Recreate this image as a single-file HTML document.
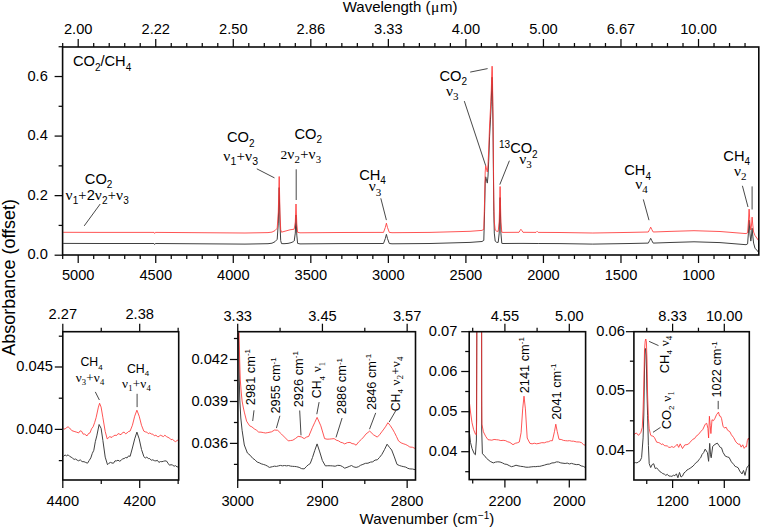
<!DOCTYPE html>
<html><head><meta charset="utf-8"><style>
html,body{margin:0;padding:0;background:#fff;}
svg{display:block;}
text{font-family:'Liberation Sans', sans-serif;fill:#000;stroke:#000;stroke-width:0px;stroke:none;}
</style></head><body>
<svg width="760" height="528" viewBox="0 0 760 528">
<rect width="760" height="528" fill="#fff"/>
<polyline points="63.20,243.40 100.00,243.50 154.00,243.50 154.60,244.50 155.30,243.50 200.00,243.80 245.00,244.10 268.00,243.70 272.00,243.20 275.00,241.70 277.20,239.30 278.30,223.10 279.20,187.60 280.00,225.10 280.70,240.60 281.50,243.60 284.00,243.70 288.00,243.40 291.00,242.70 293.50,241.60 294.20,241.00 295.30,233.10 296.00,215.10 296.80,235.10 297.60,243.40 300.00,243.90 340.00,243.60 383.50,243.50 385.30,238.60 386.40,234.30 387.50,238.60 389.30,243.50 392.00,243.80 430.00,243.50 470.00,242.40 482.00,241.50 483.80,240.40 484.60,211.10 485.20,183.10 485.70,176.80 486.50,180.10 487.30,183.10 488.00,176.10 488.70,161.10 489.60,136.10 490.50,119.10 491.30,101.10 491.80,83.10 492.10,77.30 492.40,83.10 492.70,106.10 493.00,126.10 493.40,171.10 493.80,211.10 494.30,233.10 495.20,241.10 496.80,242.40 498.20,242.40 499.20,233.10 500.10,197.60 500.90,233.10 501.80,243.30 503.00,243.50 519.00,243.40 523.00,243.40 536.00,243.50 538.20,243.50 560.00,243.60 592.80,244.10 630.00,243.50 648.30,243.10 649.60,240.60 650.70,238.30 651.80,240.60 653.20,243.10 670.00,242.50 694.00,241.80 720.00,242.60 746.00,244.70 747.60,243.90 748.40,233.10 749.10,220.20 749.90,233.10 750.80,241.10 751.50,236.10 752.10,228.20 752.80,236.10 753.60,243.10 755.00,248.20 757.50,250.95 758.40,252.18" fill="none" stroke="#404040" stroke-width="1.0" stroke-linejoin="round" opacity="1.0"/>
<polyline points="63.20,232.30 100.00,232.40 154.00,232.40 154.60,233.40 155.30,232.40 200.00,232.70 245.00,233.00 268.00,232.60 272.00,232.10 275.00,230.60 277.20,228.20 278.30,212.00 279.20,176.50 280.00,214.00 280.70,229.50 281.50,232.20 285.00,231.20 290.00,229.80 294.20,229.20 295.30,222.00 296.00,204.00 296.80,224.00 297.60,232.30 300.00,232.80 340.00,232.50 383.50,232.40 385.30,227.50 386.40,223.20 387.50,227.50 389.30,232.40 392.00,232.70 430.00,232.40 470.00,231.30 482.00,230.40 483.80,229.30 484.60,200.00 485.20,172.00 485.70,165.70 486.50,169.00 487.30,172.00 488.00,165.00 488.70,150.00 489.60,125.00 490.50,108.00 491.30,90.00 491.80,72.00 492.10,66.20 492.40,72.00 492.70,95.00 493.00,115.00 493.40,160.00 493.80,200.00 494.30,222.00 495.20,230.00 496.80,231.30 498.20,231.30 499.20,222.00 500.10,186.50 500.90,222.00 501.80,232.20 503.00,232.40 519.00,232.30 520.10,230.50 520.90,229.30 521.80,230.50 523.00,232.30 536.00,232.40 537.10,231.30 538.20,232.40 560.00,232.50 592.80,233.00 630.00,232.40 648.30,232.00 649.60,229.50 650.70,227.20 651.80,229.50 653.20,232.00 670.00,231.40 694.00,230.70 720.00,231.50 746.00,233.60 747.60,232.80 748.40,222.00 749.10,209.10 749.90,222.00 750.80,230.00 751.50,225.00 752.10,217.10 752.80,225.00 753.60,232.00 755.00,235.50 757.50,239.00 758.40,240.50" fill="none" stroke="#ff3030" stroke-width="1.0" stroke-linejoin="round" opacity="0.82"/>
<rect x="62.60" y="47.00" width="696.20" height="208.00" fill="none" stroke="#0a0a0a" stroke-width="1.6"/>
<line x1="78.20" y1="47.00" x2="78.20" y2="39.00" stroke="#0a0a0a" stroke-width="1.25"/>
<line x1="78.20" y1="255.00" x2="78.20" y2="263.00" stroke="#0a0a0a" stroke-width="1.25"/>
<line x1="155.74" y1="47.00" x2="155.74" y2="39.00" stroke="#0a0a0a" stroke-width="1.25"/>
<line x1="155.74" y1="255.00" x2="155.74" y2="263.00" stroke="#0a0a0a" stroke-width="1.25"/>
<line x1="233.28" y1="47.00" x2="233.28" y2="39.00" stroke="#0a0a0a" stroke-width="1.25"/>
<line x1="233.28" y1="255.00" x2="233.28" y2="263.00" stroke="#0a0a0a" stroke-width="1.25"/>
<line x1="310.82" y1="47.00" x2="310.82" y2="39.00" stroke="#0a0a0a" stroke-width="1.25"/>
<line x1="310.82" y1="255.00" x2="310.82" y2="263.00" stroke="#0a0a0a" stroke-width="1.25"/>
<line x1="388.36" y1="47.00" x2="388.36" y2="39.00" stroke="#0a0a0a" stroke-width="1.25"/>
<line x1="388.36" y1="255.00" x2="388.36" y2="263.00" stroke="#0a0a0a" stroke-width="1.25"/>
<line x1="465.90" y1="47.00" x2="465.90" y2="39.00" stroke="#0a0a0a" stroke-width="1.25"/>
<line x1="465.90" y1="255.00" x2="465.90" y2="263.00" stroke="#0a0a0a" stroke-width="1.25"/>
<line x1="543.44" y1="47.00" x2="543.44" y2="39.00" stroke="#0a0a0a" stroke-width="1.25"/>
<line x1="543.44" y1="255.00" x2="543.44" y2="263.00" stroke="#0a0a0a" stroke-width="1.25"/>
<line x1="620.98" y1="47.00" x2="620.98" y2="39.00" stroke="#0a0a0a" stroke-width="1.25"/>
<line x1="620.98" y1="255.00" x2="620.98" y2="263.00" stroke="#0a0a0a" stroke-width="1.25"/>
<line x1="698.52" y1="47.00" x2="698.52" y2="39.00" stroke="#0a0a0a" stroke-width="1.25"/>
<line x1="698.52" y1="255.00" x2="698.52" y2="263.00" stroke="#0a0a0a" stroke-width="1.25"/>
<line x1="62.69" y1="47.00" x2="62.69" y2="43.00" stroke="#0a0a0a" stroke-width="1.25"/>
<line x1="62.69" y1="255.00" x2="62.69" y2="259.00" stroke="#0a0a0a" stroke-width="1.25"/>
<line x1="93.71" y1="47.00" x2="93.71" y2="43.00" stroke="#0a0a0a" stroke-width="1.25"/>
<line x1="93.71" y1="255.00" x2="93.71" y2="259.00" stroke="#0a0a0a" stroke-width="1.25"/>
<line x1="109.22" y1="47.00" x2="109.22" y2="43.00" stroke="#0a0a0a" stroke-width="1.25"/>
<line x1="109.22" y1="255.00" x2="109.22" y2="259.00" stroke="#0a0a0a" stroke-width="1.25"/>
<line x1="124.72" y1="47.00" x2="124.72" y2="43.00" stroke="#0a0a0a" stroke-width="1.25"/>
<line x1="124.72" y1="255.00" x2="124.72" y2="259.00" stroke="#0a0a0a" stroke-width="1.25"/>
<line x1="140.23" y1="47.00" x2="140.23" y2="43.00" stroke="#0a0a0a" stroke-width="1.25"/>
<line x1="140.23" y1="255.00" x2="140.23" y2="259.00" stroke="#0a0a0a" stroke-width="1.25"/>
<line x1="171.25" y1="47.00" x2="171.25" y2="43.00" stroke="#0a0a0a" stroke-width="1.25"/>
<line x1="171.25" y1="255.00" x2="171.25" y2="259.00" stroke="#0a0a0a" stroke-width="1.25"/>
<line x1="186.76" y1="47.00" x2="186.76" y2="43.00" stroke="#0a0a0a" stroke-width="1.25"/>
<line x1="186.76" y1="255.00" x2="186.76" y2="259.00" stroke="#0a0a0a" stroke-width="1.25"/>
<line x1="202.26" y1="47.00" x2="202.26" y2="43.00" stroke="#0a0a0a" stroke-width="1.25"/>
<line x1="202.26" y1="255.00" x2="202.26" y2="259.00" stroke="#0a0a0a" stroke-width="1.25"/>
<line x1="217.77" y1="47.00" x2="217.77" y2="43.00" stroke="#0a0a0a" stroke-width="1.25"/>
<line x1="217.77" y1="255.00" x2="217.77" y2="259.00" stroke="#0a0a0a" stroke-width="1.25"/>
<line x1="248.79" y1="47.00" x2="248.79" y2="43.00" stroke="#0a0a0a" stroke-width="1.25"/>
<line x1="248.79" y1="255.00" x2="248.79" y2="259.00" stroke="#0a0a0a" stroke-width="1.25"/>
<line x1="264.30" y1="47.00" x2="264.30" y2="43.00" stroke="#0a0a0a" stroke-width="1.25"/>
<line x1="264.30" y1="255.00" x2="264.30" y2="259.00" stroke="#0a0a0a" stroke-width="1.25"/>
<line x1="279.80" y1="47.00" x2="279.80" y2="43.00" stroke="#0a0a0a" stroke-width="1.25"/>
<line x1="279.80" y1="255.00" x2="279.80" y2="259.00" stroke="#0a0a0a" stroke-width="1.25"/>
<line x1="295.31" y1="47.00" x2="295.31" y2="43.00" stroke="#0a0a0a" stroke-width="1.25"/>
<line x1="295.31" y1="255.00" x2="295.31" y2="259.00" stroke="#0a0a0a" stroke-width="1.25"/>
<line x1="326.33" y1="47.00" x2="326.33" y2="43.00" stroke="#0a0a0a" stroke-width="1.25"/>
<line x1="326.33" y1="255.00" x2="326.33" y2="259.00" stroke="#0a0a0a" stroke-width="1.25"/>
<line x1="341.84" y1="47.00" x2="341.84" y2="43.00" stroke="#0a0a0a" stroke-width="1.25"/>
<line x1="341.84" y1="255.00" x2="341.84" y2="259.00" stroke="#0a0a0a" stroke-width="1.25"/>
<line x1="357.34" y1="47.00" x2="357.34" y2="43.00" stroke="#0a0a0a" stroke-width="1.25"/>
<line x1="357.34" y1="255.00" x2="357.34" y2="259.00" stroke="#0a0a0a" stroke-width="1.25"/>
<line x1="372.85" y1="47.00" x2="372.85" y2="43.00" stroke="#0a0a0a" stroke-width="1.25"/>
<line x1="372.85" y1="255.00" x2="372.85" y2="259.00" stroke="#0a0a0a" stroke-width="1.25"/>
<line x1="403.87" y1="47.00" x2="403.87" y2="43.00" stroke="#0a0a0a" stroke-width="1.25"/>
<line x1="403.87" y1="255.00" x2="403.87" y2="259.00" stroke="#0a0a0a" stroke-width="1.25"/>
<line x1="419.38" y1="47.00" x2="419.38" y2="43.00" stroke="#0a0a0a" stroke-width="1.25"/>
<line x1="419.38" y1="255.00" x2="419.38" y2="259.00" stroke="#0a0a0a" stroke-width="1.25"/>
<line x1="434.88" y1="47.00" x2="434.88" y2="43.00" stroke="#0a0a0a" stroke-width="1.25"/>
<line x1="434.88" y1="255.00" x2="434.88" y2="259.00" stroke="#0a0a0a" stroke-width="1.25"/>
<line x1="450.39" y1="47.00" x2="450.39" y2="43.00" stroke="#0a0a0a" stroke-width="1.25"/>
<line x1="450.39" y1="255.00" x2="450.39" y2="259.00" stroke="#0a0a0a" stroke-width="1.25"/>
<line x1="481.41" y1="47.00" x2="481.41" y2="43.00" stroke="#0a0a0a" stroke-width="1.25"/>
<line x1="481.41" y1="255.00" x2="481.41" y2="259.00" stroke="#0a0a0a" stroke-width="1.25"/>
<line x1="496.92" y1="47.00" x2="496.92" y2="43.00" stroke="#0a0a0a" stroke-width="1.25"/>
<line x1="496.92" y1="255.00" x2="496.92" y2="259.00" stroke="#0a0a0a" stroke-width="1.25"/>
<line x1="512.42" y1="47.00" x2="512.42" y2="43.00" stroke="#0a0a0a" stroke-width="1.25"/>
<line x1="512.42" y1="255.00" x2="512.42" y2="259.00" stroke="#0a0a0a" stroke-width="1.25"/>
<line x1="527.93" y1="47.00" x2="527.93" y2="43.00" stroke="#0a0a0a" stroke-width="1.25"/>
<line x1="527.93" y1="255.00" x2="527.93" y2="259.00" stroke="#0a0a0a" stroke-width="1.25"/>
<line x1="558.95" y1="47.00" x2="558.95" y2="43.00" stroke="#0a0a0a" stroke-width="1.25"/>
<line x1="558.95" y1="255.00" x2="558.95" y2="259.00" stroke="#0a0a0a" stroke-width="1.25"/>
<line x1="574.46" y1="47.00" x2="574.46" y2="43.00" stroke="#0a0a0a" stroke-width="1.25"/>
<line x1="574.46" y1="255.00" x2="574.46" y2="259.00" stroke="#0a0a0a" stroke-width="1.25"/>
<line x1="589.96" y1="47.00" x2="589.96" y2="43.00" stroke="#0a0a0a" stroke-width="1.25"/>
<line x1="589.96" y1="255.00" x2="589.96" y2="259.00" stroke="#0a0a0a" stroke-width="1.25"/>
<line x1="605.47" y1="47.00" x2="605.47" y2="43.00" stroke="#0a0a0a" stroke-width="1.25"/>
<line x1="605.47" y1="255.00" x2="605.47" y2="259.00" stroke="#0a0a0a" stroke-width="1.25"/>
<line x1="636.49" y1="47.00" x2="636.49" y2="43.00" stroke="#0a0a0a" stroke-width="1.25"/>
<line x1="636.49" y1="255.00" x2="636.49" y2="259.00" stroke="#0a0a0a" stroke-width="1.25"/>
<line x1="652.00" y1="47.00" x2="652.00" y2="43.00" stroke="#0a0a0a" stroke-width="1.25"/>
<line x1="652.00" y1="255.00" x2="652.00" y2="259.00" stroke="#0a0a0a" stroke-width="1.25"/>
<line x1="667.50" y1="47.00" x2="667.50" y2="43.00" stroke="#0a0a0a" stroke-width="1.25"/>
<line x1="667.50" y1="255.00" x2="667.50" y2="259.00" stroke="#0a0a0a" stroke-width="1.25"/>
<line x1="683.01" y1="47.00" x2="683.01" y2="43.00" stroke="#0a0a0a" stroke-width="1.25"/>
<line x1="683.01" y1="255.00" x2="683.01" y2="259.00" stroke="#0a0a0a" stroke-width="1.25"/>
<line x1="714.03" y1="47.00" x2="714.03" y2="43.00" stroke="#0a0a0a" stroke-width="1.25"/>
<line x1="714.03" y1="255.00" x2="714.03" y2="259.00" stroke="#0a0a0a" stroke-width="1.25"/>
<line x1="729.54" y1="47.00" x2="729.54" y2="43.00" stroke="#0a0a0a" stroke-width="1.25"/>
<line x1="729.54" y1="255.00" x2="729.54" y2="259.00" stroke="#0a0a0a" stroke-width="1.25"/>
<line x1="745.04" y1="47.00" x2="745.04" y2="43.00" stroke="#0a0a0a" stroke-width="1.25"/>
<line x1="745.04" y1="255.00" x2="745.04" y2="259.00" stroke="#0a0a0a" stroke-width="1.25"/>
<text transform="translate(78.20,33.90) scale(1,1.0)" x="0" y="0" font-size="14.67" text-anchor="middle" >2.00</text>
<text transform="translate(155.74,33.90) scale(1,1.0)" x="0" y="0" font-size="14.67" text-anchor="middle" >2.22</text>
<text transform="translate(233.28,33.90) scale(1,1.0)" x="0" y="0" font-size="14.67" text-anchor="middle" >2.50</text>
<text transform="translate(310.82,33.90) scale(1,1.0)" x="0" y="0" font-size="14.67" text-anchor="middle" >2.86</text>
<text transform="translate(388.36,33.90) scale(1,1.0)" x="0" y="0" font-size="14.67" text-anchor="middle" >3.33</text>
<text transform="translate(465.90,33.90) scale(1,1.0)" x="0" y="0" font-size="14.67" text-anchor="middle" >4.00</text>
<text transform="translate(543.44,33.90) scale(1,1.0)" x="0" y="0" font-size="14.67" text-anchor="middle" >5.00</text>
<text transform="translate(620.98,33.90) scale(1,1.0)" x="0" y="0" font-size="14.67" text-anchor="middle" >6.67</text>
<text transform="translate(698.52,33.90) scale(1,1.0)" x="0" y="0" font-size="14.67" text-anchor="middle" >10.00</text>
<text transform="translate(78.20,280.00) scale(1,1.0)" x="0" y="0" font-size="14.67" text-anchor="middle" >5000</text>
<text transform="translate(155.74,280.00) scale(1,1.0)" x="0" y="0" font-size="14.67" text-anchor="middle" >4500</text>
<text transform="translate(233.28,280.00) scale(1,1.0)" x="0" y="0" font-size="14.67" text-anchor="middle" >4000</text>
<text transform="translate(310.82,280.00) scale(1,1.0)" x="0" y="0" font-size="14.67" text-anchor="middle" >3500</text>
<text transform="translate(388.36,280.00) scale(1,1.0)" x="0" y="0" font-size="14.67" text-anchor="middle" >3000</text>
<text transform="translate(465.90,280.00) scale(1,1.0)" x="0" y="0" font-size="14.67" text-anchor="middle" >2500</text>
<text transform="translate(543.44,280.00) scale(1,1.0)" x="0" y="0" font-size="14.67" text-anchor="middle" >2000</text>
<text transform="translate(620.98,280.00) scale(1,1.0)" x="0" y="0" font-size="14.67" text-anchor="middle" >1500</text>
<text transform="translate(698.52,280.00) scale(1,1.0)" x="0" y="0" font-size="14.67" text-anchor="middle" >1000</text>
<line x1="62.60" y1="255.20" x2="54.60" y2="255.20" stroke="#0a0a0a" stroke-width="1.25"/>
<line x1="62.60" y1="195.64" x2="54.60" y2="195.64" stroke="#0a0a0a" stroke-width="1.25"/>
<line x1="62.60" y1="136.08" x2="54.60" y2="136.08" stroke="#0a0a0a" stroke-width="1.25"/>
<line x1="62.60" y1="76.52" x2="54.60" y2="76.52" stroke="#0a0a0a" stroke-width="1.25"/>
<line x1="62.60" y1="225.42" x2="58.60" y2="225.42" stroke="#0a0a0a" stroke-width="1.25"/>
<line x1="62.60" y1="165.86" x2="58.60" y2="165.86" stroke="#0a0a0a" stroke-width="1.25"/>
<line x1="62.60" y1="106.30" x2="58.60" y2="106.30" stroke="#0a0a0a" stroke-width="1.25"/>
<line x1="62.60" y1="46.74" x2="58.60" y2="46.74" stroke="#0a0a0a" stroke-width="1.25"/>
<text transform="translate(47.80,259.40) scale(1,1.0)" x="0" y="0" font-size="14.67" text-anchor="end" >0.0</text>
<text transform="translate(47.80,199.84) scale(1,1.0)" x="0" y="0" font-size="14.67" text-anchor="end" >0.2</text>
<text transform="translate(47.80,140.28) scale(1,1.0)" x="0" y="0" font-size="14.67" text-anchor="end" >0.4</text>
<text transform="translate(47.80,80.72) scale(1,1.0)" x="0" y="0" font-size="14.67" text-anchor="end" >0.6</text>
<text transform="translate(72.90,66.00) scale(1,1.0)" x="0" y="0" font-size="14.67" text-anchor="start"><tspan font-size="14.67">CO</tspan><tspan font-size="10" dy="4.50">2</tspan><tspan font-size="14.67" dy="-4.50">/CH</tspan><tspan font-size="10" dy="4.50">4</tspan></text>
<text transform="translate(98.60,183.50) scale(1,1.0)" x="0" y="0" font-size="14.67" text-anchor="middle"><tspan font-size="14.67">CO</tspan><tspan font-size="10" dy="4.50">2</tspan></text>
<text transform="translate(97.20,200.10) scale(1,1.0)" x="0" y="0" font-size="14.67" text-anchor="middle"><tspan font-size="15.5" font-family="'Liberation Serif', serif" letter-spacing="0.15">ν</tspan><tspan font-size="10" dy="3.40" letter-spacing="0.15">1</tspan><tspan font-size="14.5" dy="-3.40" font-family="'Liberation Serif', serif" letter-spacing="0.15">+</tspan><tspan font-size="14.67">2</tspan><tspan font-size="15.5" font-family="'Liberation Serif', serif" letter-spacing="0.15">ν</tspan><tspan font-size="10" dy="3.40" letter-spacing="0.15">2</tspan><tspan font-size="14.5" dy="-3.40" font-family="'Liberation Serif', serif" letter-spacing="0.15">+</tspan><tspan font-size="15.5" font-family="'Liberation Serif', serif" letter-spacing="0.15">ν</tspan><tspan font-size="10" dy="3.40" letter-spacing="0.15">3</tspan></text>
<line x1="100.20" y1="204.00" x2="84.20" y2="225.90" stroke="#333" stroke-width="0.9"/>
<text transform="translate(240.70,142.20) scale(1,1.0)" x="0" y="0" font-size="14.67" text-anchor="middle"><tspan font-size="14.67">CO</tspan><tspan font-size="10" dy="4.50">2</tspan></text>
<text transform="translate(240.70,160.90) scale(1,1.0)" x="0" y="0" font-size="14.67" text-anchor="middle"><tspan font-size="15.5" font-family="'Liberation Serif', serif" letter-spacing="0.15">ν</tspan><tspan font-size="10.5" dy="4.50" letter-spacing="0.15">1</tspan><tspan font-size="15" dy="-4.50" font-family="'Liberation Serif', serif" letter-spacing="0.15">+</tspan><tspan font-size="15.5" font-family="'Liberation Serif', serif" letter-spacing="0.15">ν</tspan><tspan font-size="10.5" dy="4.50" letter-spacing="0.15">3</tspan></text>
<line x1="256.80" y1="168.80" x2="274.50" y2="177.90" stroke="#333" stroke-width="0.9"/>
<text transform="translate(308.20,138.50) scale(1,1.0)" x="0" y="0" font-size="14.67" text-anchor="middle"><tspan font-size="14.67">CO</tspan><tspan font-size="10" dy="4.50">2</tspan></text>
<text transform="translate(300.90,159.00) scale(1,1.0)" x="0" y="0" font-size="14.67" text-anchor="middle"><tspan font-size="13.5" font-family="'Liberation Serif', serif" letter-spacing="0.2">2</tspan><tspan font-size="15.5" font-family="'Liberation Serif', serif" letter-spacing="0.2">ν</tspan><tspan font-size="10.8" dy="3.70" font-family="'Liberation Serif', serif" letter-spacing="0.2">2</tspan><tspan font-size="14.5" dy="-3.70" font-family="'Liberation Serif', serif" letter-spacing="0.2">+</tspan><tspan font-size="15.5" font-family="'Liberation Serif', serif" letter-spacing="0.2">ν</tspan><tspan font-size="10.8" dy="3.70" font-family="'Liberation Serif', serif" letter-spacing="0.2">3</tspan></text>
<line x1="296.20" y1="169.30" x2="296.20" y2="200.00" stroke="#333" stroke-width="0.9"/>
<text transform="translate(372.50,179.80) scale(1,1.0)" x="0" y="0" font-size="14.67" text-anchor="middle"><tspan font-size="14.67">CH</tspan><tspan font-size="10" dy="4.50">4</tspan></text>
<text transform="translate(375.00,191.30) scale(1,1.0)" x="0" y="0" font-size="14.67" text-anchor="middle"><tspan font-size="15.5" font-family="'Liberation Serif', serif">ν</tspan><tspan font-size="11" dy="4.30" font-family="'Liberation Serif', serif">3</tspan></text>
<line x1="380.80" y1="198.30" x2="386.40" y2="220.10" stroke="#333" stroke-width="0.9"/>
<text transform="translate(453.30,80.50) scale(1,1.0)" x="0" y="0" font-size="14.67" text-anchor="middle"><tspan font-size="14.67">CO</tspan><tspan font-size="10" dy="4.50">2</tspan></text>
<text transform="translate(452.30,95.60) scale(1,1.0)" x="0" y="0" font-size="14.67" text-anchor="middle"><tspan font-size="15.5" font-family="'Liberation Serif', serif">ν</tspan><tspan font-size="11" dy="4.30" font-family="'Liberation Serif', serif">3</tspan></text>
<line x1="470.20" y1="72.10" x2="487.60" y2="68.60" stroke="#333" stroke-width="0.9"/>
<line x1="464.30" y1="101.10" x2="485.70" y2="165.70" stroke="#333" stroke-width="0.9"/>
<text transform="translate(499.00,153.20) scale(1,1.0)" x="0" y="0" font-size="14.67" text-anchor="start"><tspan font-size="10" dy="-5.00">13</tspan><tspan font-size="14.67" dy="5.00">CO</tspan><tspan font-size="10" dy="5.00">2</tspan></text>
<text transform="translate(525.60,163.90) scale(1,1.0)" x="0" y="0" font-size="14.67" text-anchor="middle"><tspan font-size="15.5" font-family="'Liberation Serif', serif">ν</tspan><tspan font-size="11" dy="4.30" font-family="'Liberation Serif', serif">3</tspan></text>
<line x1="509.40" y1="160.70" x2="499.80" y2="184.60" stroke="#333" stroke-width="0.9"/>
<text transform="translate(637.60,175.00) scale(1,1.0)" x="0" y="0" font-size="14.67" text-anchor="middle"><tspan font-size="14.67">CH</tspan><tspan font-size="10" dy="4.50">4</tspan></text>
<text transform="translate(641.50,188.90) scale(1,1.0)" x="0" y="0" font-size="14.67" text-anchor="middle"><tspan font-size="15.5" font-family="'Liberation Serif', serif">ν</tspan><tspan font-size="11" dy="4.30" font-family="'Liberation Serif', serif">4</tspan></text>
<line x1="643.30" y1="199.40" x2="649.00" y2="220.20" stroke="#333" stroke-width="0.9"/>
<text transform="translate(736.70,160.50) scale(1,1.0)" x="0" y="0" font-size="14.67" text-anchor="middle"><tspan font-size="14.67">CH</tspan><tspan font-size="10" dy="4.50">4</tspan></text>
<text transform="translate(740.20,175.60) scale(1,1.0)" x="0" y="0" font-size="14.67" text-anchor="middle"><tspan font-size="15.5" font-family="'Liberation Serif', serif">ν</tspan><tspan font-size="11" dy="4.30" font-family="'Liberation Serif', serif">2</tspan></text>
<line x1="742.40" y1="185.80" x2="748.00" y2="207.00" stroke="#333" stroke-width="0.9"/>
<line x1="752.10" y1="186.40" x2="752.10" y2="209.50" stroke="#333" stroke-width="0.9"/>
<clipPath id="c1"><rect x="62.80" y="331.70" width="115.90" height="148.30"/></clipPath>
<g clip-path="url(#c1)">
<polyline points="63.50,456.40 65.03,454.93 66.57,455.86 68.10,454.80 69.60,456.33 71.10,457.10 72.60,458.19 74.10,459.40 75.65,459.00 77.20,460.20 78.70,460.82 80.20,459.80 82.10,461.61 84.00,461.70 85.75,462.48 87.50,463.20 89.15,460.56 90.80,457.90 92.30,453.36 93.80,450.30 95.30,441.71 96.80,435.90 99.10,424.50 101.10,428.30 102.90,440.50 105.20,457.10 107.50,464.70 109.00,463.19 110.50,462.40 112.00,463.04 113.50,463.20 115.00,460.84 116.50,460.90 118.00,460.20 119.50,461.17 121.00,460.50 122.55,458.80 124.10,458.60 125.60,457.50 127.10,457.90 128.60,455.87 130.10,456.40 132.40,448.00 134.70,438.90 136.90,432.10 139.20,438.90 141.50,449.50 143.80,456.40 145.30,458.14 146.80,457.10 148.30,458.52 149.80,458.60 151.30,460.25 152.80,459.80 154.35,460.67 155.90,460.90 157.40,460.35 158.90,462.40 160.40,461.57 161.90,461.70 163.40,461.29 164.90,460.90 166.45,460.97 168.00,463.20 169.50,465.22 171.00,464.70 172.55,465.08 174.10,466.20 175.60,465.63 177.10,467.00 178.60,466.50" fill="none" stroke="#404040" stroke-width="1.0" stroke-linejoin="round" opacity="1.0"/>
<polyline points="63.50,428.30 65.00,429.23 66.50,427.60 68.05,426.79 69.60,428.00 71.80,430.60 74.10,431.40 76.40,432.10 78.70,432.90 80.20,430.82 81.70,431.40 83.20,434.15 84.70,434.10 87.00,435.90 88.50,433.52 90.00,432.90 91.55,428.79 93.10,426.80 94.60,422.67 96.10,417.70 98.40,407.10 99.60,403.30 101.10,407.10 102.90,417.70 105.20,431.40 107.20,438.90 109.70,436.70 112.00,437.40 113.50,435.87 115.00,435.20 116.55,435.49 118.10,433.60 121.00,434.70 122.55,432.65 124.10,432.10 125.60,433.79 127.10,432.90 128.60,431.49 130.10,431.10 132.40,425.30 134.70,416.20 136.90,410.20 139.20,416.20 141.50,425.30 143.80,431.10 145.30,431.88 146.80,432.10 148.30,433.71 149.80,432.90 151.30,434.02 152.80,434.10 154.35,435.84 155.90,435.20 157.40,436.53 158.90,436.70 160.40,435.04 161.90,435.90 163.40,436.62 164.90,435.20 166.45,436.55 168.00,437.40 169.50,438.02 171.00,439.70 172.55,439.38 174.10,440.80 175.60,441.63 177.10,440.50 178.60,439.70" fill="none" stroke="#ff3030" stroke-width="1.0" stroke-linejoin="round" opacity="0.82"/>
</g>
<rect x="62.80" y="331.70" width="115.90" height="148.30" fill="none" stroke="#0a0a0a" stroke-width="1.6"/>
<line x1="62.80" y1="331.70" x2="62.80" y2="323.70" stroke="#0a0a0a" stroke-width="1.25"/>
<line x1="62.80" y1="480.00" x2="62.80" y2="488.00" stroke="#0a0a0a" stroke-width="1.25"/>
<line x1="139.70" y1="331.70" x2="139.70" y2="323.70" stroke="#0a0a0a" stroke-width="1.25"/>
<line x1="139.70" y1="480.00" x2="139.70" y2="488.00" stroke="#0a0a0a" stroke-width="1.25"/>
<line x1="101.25" y1="331.70" x2="101.25" y2="327.70" stroke="#0a0a0a" stroke-width="1.25"/>
<line x1="101.25" y1="480.00" x2="101.25" y2="484.00" stroke="#0a0a0a" stroke-width="1.25"/>
<line x1="178.15" y1="331.70" x2="178.15" y2="327.70" stroke="#0a0a0a" stroke-width="1.25"/>
<line x1="178.15" y1="480.00" x2="178.15" y2="484.00" stroke="#0a0a0a" stroke-width="1.25"/>
<text transform="translate(62.80,318.80) scale(1,1.0)" x="0" y="0" font-size="14.67" text-anchor="middle" >2.27</text>
<text transform="translate(139.70,318.80) scale(1,1.0)" x="0" y="0" font-size="14.67" text-anchor="middle" >2.38</text>
<text transform="translate(62.80,505.50) scale(1,1.0)" x="0" y="0" font-size="14.67" text-anchor="middle" >4400</text>
<text transform="translate(139.70,505.50) scale(1,1.0)" x="0" y="0" font-size="14.67" text-anchor="middle" >4200</text>
<line x1="62.80" y1="367.00" x2="54.80" y2="367.00" stroke="#0a0a0a" stroke-width="1.25"/>
<line x1="62.80" y1="429.40" x2="54.80" y2="429.40" stroke="#0a0a0a" stroke-width="1.25"/>
<line x1="62.80" y1="336.20" x2="58.80" y2="336.20" stroke="#0a0a0a" stroke-width="1.25"/>
<line x1="62.80" y1="398.20" x2="58.80" y2="398.20" stroke="#0a0a0a" stroke-width="1.25"/>
<line x1="62.80" y1="460.60" x2="58.80" y2="460.60" stroke="#0a0a0a" stroke-width="1.25"/>
<text transform="translate(53.00,371.10) scale(1,1.0)" x="0" y="0" font-size="14.67" text-anchor="end" >0.045</text>
<text transform="translate(53.00,433.50) scale(1,1.0)" x="0" y="0" font-size="14.67" text-anchor="end" >0.040</text>
<text transform="translate(91.50,366.40) scale(1,1.0)" x="0" y="0" font-size="12.3" text-anchor="middle"><tspan font-size="12.3">CH</tspan><tspan font-size="8" dy="3.50">4</tspan></text>
<text transform="translate(90.10,381.70) scale(1,1.0)" x="0" y="0" font-size="12.3" text-anchor="middle"><tspan font-size="13.2" font-family="'Liberation Serif', serif" letter-spacing="0.2">ν</tspan><tspan font-size="8.6" dy="3.20" font-family="'Liberation Serif', serif" letter-spacing="0.2">3</tspan><tspan font-size="13" dy="-3.20" font-family="'Liberation Serif', serif" letter-spacing="0.2">+</tspan><tspan font-size="13.2" font-family="'Liberation Serif', serif" letter-spacing="0.2">ν</tspan><tspan font-size="8.6" dy="3.20" font-family="'Liberation Serif', serif" letter-spacing="0.2">4</tspan></text>
<line x1="95.30" y1="391.90" x2="99.40" y2="400.00" stroke="#333" stroke-width="0.9"/>
<text transform="translate(138.00,372.70) scale(1,1.0)" x="0" y="0" font-size="12.3" text-anchor="middle"><tspan font-size="12.3">CH</tspan><tspan font-size="8" dy="3.50">4</tspan></text>
<text transform="translate(136.50,388.20) scale(1,1.0)" x="0" y="0" font-size="12.3" text-anchor="middle"><tspan font-size="13.2" font-family="'Liberation Serif', serif" letter-spacing="0.2">ν</tspan><tspan font-size="8.6" dy="3.20" font-family="'Liberation Serif', serif" letter-spacing="0.2">1</tspan><tspan font-size="13" dy="-3.20" font-family="'Liberation Serif', serif" letter-spacing="0.2">+</tspan><tspan font-size="13.2" font-family="'Liberation Serif', serif" letter-spacing="0.2">ν</tspan><tspan font-size="8.6" dy="3.20" font-family="'Liberation Serif', serif" letter-spacing="0.2">4</tspan></text>
<line x1="137.10" y1="393.80" x2="137.10" y2="407.10" stroke="#333" stroke-width="0.9"/>
<clipPath id="c2"><rect x="237.90" y="331.70" width="177.60" height="148.30"/></clipPath>
<g clip-path="url(#c2)">
<polyline points="238.40,333.00 238.80,350.00 239.30,380.00 239.80,400.00 240.80,418.00 242.10,430.30 244.30,445.00 247.40,453.00 250.05,455.16 252.70,458.30 254.95,459.81 257.20,462.10 259.23,462.76 261.27,463.82 263.30,464.40 265.30,465.04 267.30,466.01 269.30,467.40 272.40,466.70 274.40,466.17 276.40,466.42 278.40,465.90 280.43,465.41 282.47,465.87 284.50,465.50 286.50,465.86 288.50,465.54 290.50,466.10 292.53,466.34 294.57,466.45 296.60,466.70 299.13,467.35 301.67,468.66 304.20,468.90 306.20,466.73 308.20,464.89 310.20,463.60 312.50,457.47 314.80,450.37 317.10,443.90 319.75,451.95 322.40,460.60 325.40,465.90 327.80,465.73 330.20,465.76 332.60,465.90 335.13,466.22 337.67,465.34 340.20,465.50 342.45,466.57 344.70,468.20 346.97,467.38 349.23,466.45 351.50,465.50 353.80,466.90 356.10,467.40 358.37,466.74 360.63,465.26 362.90,464.40 365.43,463.34 367.97,463.20 370.50,462.10 372.77,461.82 375.03,460.10 377.30,459.80 379.55,457.39 381.80,454.50 384.45,449.72 387.10,444.20 389.40,447.25 391.70,450.00 394.35,456.92 397.00,464.40 399.27,465.46 401.53,466.16 403.80,466.70 405.80,467.13 407.80,468.31 409.80,468.90 412.50,469.02 415.20,469.70" fill="none" stroke="#404040" stroke-width="1.0" stroke-linejoin="round" opacity="1.0"/>
<polyline points="239.00,331.00 239.40,350.00 239.90,368.00 240.30,380.00 241.20,392.00 242.10,401.00 243.20,407.00 244.30,412.10 246.60,421.20 249.60,425.80 251.90,426.88 254.20,428.80 256.45,430.16 258.70,432.10 261.00,432.15 263.30,432.60 265.55,433.00 267.80,432.60 271.60,431.80 274.60,430.00 277.70,430.30 281.50,434.10 284.50,437.10 288.30,440.90 290.55,440.55 292.80,440.20 295.45,438.52 298.10,436.40 301.20,436.80 304.20,438.60 306.45,437.10 308.70,436.40 312.50,427.30 314.80,422.36 317.10,417.40 320.80,425.80 324.60,438.60 327.05,439.19 329.50,439.10 331.80,438.87 334.10,438.60 336.35,440.19 338.60,440.90 340.63,442.28 342.67,442.77 344.70,443.90 347.35,442.65 350.00,442.40 352.03,443.59 354.07,443.89 356.10,445.20 358.75,441.81 361.40,439.40 363.65,436.98 365.90,434.10 369.70,431.10 373.50,434.80 377.30,437.10 379.55,434.79 381.80,431.80 383.83,429.10 385.87,426.19 387.90,422.70 390.15,425.45 392.40,428.80 394.43,432.41 396.47,436.49 398.50,440.90 401.15,442.88 403.80,443.90 405.80,444.55 407.80,445.63 409.80,447.00 412.50,447.27 415.20,448.50" fill="none" stroke="#ff3030" stroke-width="1.0" stroke-linejoin="round" opacity="0.82"/>
</g>
<rect x="237.90" y="331.70" width="177.60" height="148.30" fill="none" stroke="#0a0a0a" stroke-width="1.6"/>
<line x1="237.70" y1="331.70" x2="237.70" y2="323.70" stroke="#0a0a0a" stroke-width="1.25"/>
<line x1="237.70" y1="480.00" x2="237.70" y2="488.00" stroke="#0a0a0a" stroke-width="1.25"/>
<line x1="322.43" y1="331.70" x2="322.43" y2="323.70" stroke="#0a0a0a" stroke-width="1.25"/>
<line x1="322.43" y1="480.00" x2="322.43" y2="488.00" stroke="#0a0a0a" stroke-width="1.25"/>
<line x1="407.16" y1="331.70" x2="407.16" y2="323.70" stroke="#0a0a0a" stroke-width="1.25"/>
<line x1="407.16" y1="480.00" x2="407.16" y2="488.00" stroke="#0a0a0a" stroke-width="1.25"/>
<line x1="280.06" y1="331.70" x2="280.06" y2="327.70" stroke="#0a0a0a" stroke-width="1.25"/>
<line x1="280.06" y1="480.00" x2="280.06" y2="484.00" stroke="#0a0a0a" stroke-width="1.25"/>
<line x1="364.80" y1="331.70" x2="364.80" y2="327.70" stroke="#0a0a0a" stroke-width="1.25"/>
<line x1="364.80" y1="480.00" x2="364.80" y2="484.00" stroke="#0a0a0a" stroke-width="1.25"/>
<text transform="translate(237.70,321.00) scale(1,1.0)" x="0" y="0" font-size="14.67" text-anchor="middle" >3.33</text>
<text transform="translate(322.43,321.00) scale(1,1.0)" x="0" y="0" font-size="14.67" text-anchor="middle" >3.45</text>
<text transform="translate(407.16,321.00) scale(1,1.0)" x="0" y="0" font-size="14.67" text-anchor="middle" >3.57</text>
<text transform="translate(237.70,505.50) scale(1,1.0)" x="0" y="0" font-size="14.67" text-anchor="middle" >3000</text>
<text transform="translate(322.43,505.50) scale(1,1.0)" x="0" y="0" font-size="14.67" text-anchor="middle" >2900</text>
<text transform="translate(407.16,505.50) scale(1,1.0)" x="0" y="0" font-size="14.67" text-anchor="middle" >2800</text>
<line x1="237.90" y1="359.50" x2="229.90" y2="359.50" stroke="#0a0a0a" stroke-width="1.25"/>
<line x1="237.90" y1="401.50" x2="229.90" y2="401.50" stroke="#0a0a0a" stroke-width="1.25"/>
<line x1="237.90" y1="443.40" x2="229.90" y2="443.40" stroke="#0a0a0a" stroke-width="1.25"/>
<line x1="237.90" y1="338.50" x2="233.90" y2="338.50" stroke="#0a0a0a" stroke-width="1.25"/>
<line x1="237.90" y1="380.50" x2="233.90" y2="380.50" stroke="#0a0a0a" stroke-width="1.25"/>
<line x1="237.90" y1="422.50" x2="233.90" y2="422.50" stroke="#0a0a0a" stroke-width="1.25"/>
<line x1="237.90" y1="464.40" x2="233.90" y2="464.40" stroke="#0a0a0a" stroke-width="1.25"/>
<text transform="translate(228.10,363.60) scale(1,1.0)" x="0" y="0" font-size="14.67" text-anchor="end" >0.042</text>
<text transform="translate(228.10,405.60) scale(1,1.0)" x="0" y="0" font-size="14.67" text-anchor="end" >0.039</text>
<text transform="translate(228.10,447.50) scale(1,1.0)" x="0" y="0" font-size="14.67" text-anchor="end" >0.036</text>
<text transform="translate(255.00,405.20) rotate(-90) scale(1,1.0)" x="0" y="0" font-size="12.8" text-anchor="start"><tspan font-size="12.8">2981 cm</tspan><tspan font-size="8" dy="-4.60">-1</tspan></text>
<line x1="254.00" y1="410.30" x2="252.70" y2="421.00" stroke="#333" stroke-width="0.9"/>
<text transform="translate(280.20,413.50) rotate(-90) scale(1,1.0)" x="0" y="0" font-size="12.8" text-anchor="start"><tspan font-size="12.8">2955 cm</tspan><tspan font-size="8" dy="-4.60">-1</tspan></text>
<line x1="279.90" y1="415.80" x2="276.40" y2="428.10" stroke="#333" stroke-width="0.9"/>
<text transform="translate(302.60,407.30) rotate(-90) scale(1,1.0)" x="0" y="0" font-size="12.8" text-anchor="start"><tspan font-size="12.8">2926 cm</tspan><tspan font-size="8" dy="-4.60">-1</tspan></text>
<line x1="299.70" y1="410.50" x2="301.00" y2="435.30" stroke="#333" stroke-width="0.9"/>
<text transform="translate(321.30,398.20) rotate(-90) scale(1,1.0)" x="0" y="0" font-size="12.3" text-anchor="start"><tspan font-size="12.3">CH</tspan><tspan font-size="8" dy="3.40" letter-spacing="0.2">4</tspan><tspan font-size="12.3" dy="-3.40"> </tspan><tspan font-size="13.2" font-family="'Liberation Serif', serif" letter-spacing="0.2">ν</tspan><tspan font-size="8.6" dy="3.40" font-family="'Liberation Serif', serif" letter-spacing="0.2">1</tspan></text>
<line x1="319.10" y1="402.10" x2="316.80" y2="414.20" stroke="#333" stroke-width="0.9"/>
<text transform="translate(346.40,414.20) rotate(-90) scale(1,1.0)" x="0" y="0" font-size="12.8" text-anchor="start"><tspan font-size="12.8">2886 cm</tspan><tspan font-size="8" dy="-4.60">-1</tspan></text>
<line x1="342.10" y1="418.00" x2="336.00" y2="437.40" stroke="#333" stroke-width="0.9"/>
<text transform="translate(375.50,410.10) rotate(-90) scale(1,1.0)" x="0" y="0" font-size="12.8" text-anchor="start"><tspan font-size="12.8">2846 cm</tspan><tspan font-size="8" dy="-4.60">-1</tspan></text>
<line x1="375.70" y1="412.90" x2="369.50" y2="429.20" stroke="#333" stroke-width="0.9"/>
<text transform="translate(399.50,411.30) rotate(-90) scale(1,1.0)" x="0" y="0" font-size="12.3" text-anchor="start"><tspan font-size="12.3">CH</tspan><tspan font-size="8" dy="3.40" letter-spacing="0.2">4</tspan><tspan font-size="12.3" dy="-3.40"> </tspan><tspan font-size="13.2" font-family="'Liberation Serif', serif" letter-spacing="0.2">ν</tspan><tspan font-size="8.6" dy="3.40" font-family="'Liberation Serif', serif" letter-spacing="0.2">2</tspan><tspan font-size="13" dy="-3.40" font-family="'Liberation Serif', serif" letter-spacing="0.2">+</tspan><tspan font-size="13.2" font-family="'Liberation Serif', serif" letter-spacing="0.2">ν</tspan><tspan font-size="8.6" dy="3.40" font-family="'Liberation Serif', serif" letter-spacing="0.2">4</tspan></text>
<line x1="395.70" y1="410.80" x2="389.20" y2="422.00" stroke="#333" stroke-width="0.9"/>
<clipPath id="c3"><rect x="469.20" y="331.70" width="116.40" height="147.90"/></clipPath>
<g clip-path="url(#c3)">
<polyline points="469.60,434.00 470.50,442.40 472.00,448.50 474.30,453.80 475.40,454.80 476.40,440.00 476.90,300.00 479.25,299.88 481.60,300.00 481.70,430.00 482.40,453.80 484.20,455.30 486.50,458.30 490.20,461.40 493.30,462.90 495.55,462.08 497.80,461.80 500.10,462.02 502.40,462.90 504.65,464.06 506.90,464.40 509.20,465.63 511.50,466.70 513.75,466.14 516.00,465.20 518.00,465.80 520.63,466.32 523.27,466.62 525.90,467.20 528.53,467.23 531.17,466.88 533.80,466.60 535.80,466.68 537.80,466.36 539.80,466.34 541.80,465.80 544.43,465.14 547.07,464.26 549.70,464.00 551.93,462.95 554.17,462.82 556.40,461.90 558.60,462.00 560.80,462.92 563.00,463.20 565.12,463.48 567.24,463.08 569.36,463.96 571.48,463.37 573.60,464.00 576.25,464.62 578.90,464.50 581.10,465.91 583.30,466.35 585.50,467.70" fill="none" stroke="#404040" stroke-width="1.0" stroke-linejoin="round" opacity="1.0"/>
<polyline points="469.60,404.00 470.50,412.00 472.00,422.70 473.60,429.50 475.40,434.10 476.30,434.80 476.70,420.00 476.90,300.00 479.25,300.14 481.60,300.00 481.70,400.00 481.90,424.20 483.40,431.80 485.70,436.40 488.00,439.70 491.80,440.20 494.05,439.48 496.30,439.70 498.55,439.93 500.80,440.60 503.10,440.32 505.40,440.60 507.65,441.74 509.90,442.40 513.00,444.70 515.30,443.30 517.30,442.83 519.30,442.00 521.10,432.70 522.70,408.90 524.00,396.20 525.40,408.90 527.20,438.00 529.90,443.30 532.10,443.86 534.30,443.22 536.50,443.80 539.13,443.39 541.77,442.66 544.40,442.80 546.40,441.99 548.40,441.76 550.40,440.75 552.40,440.70 554.50,431.40 555.80,424.20 557.20,431.40 559.00,439.30 561.20,439.47 563.40,440.38 565.60,440.70 567.60,440.87 569.60,440.67 571.60,441.16 573.60,441.20 576.50,441.91 579.40,442.00 581.43,442.64 583.47,444.57 585.50,445.40" fill="none" stroke="#ff3030" stroke-width="1.0" stroke-linejoin="round" opacity="0.82"/>
</g>
<rect x="469.20" y="331.70" width="116.40" height="147.90" fill="none" stroke="#0a0a0a" stroke-width="1.6"/>
<line x1="504.90" y1="331.70" x2="504.90" y2="323.70" stroke="#0a0a0a" stroke-width="1.25"/>
<line x1="504.90" y1="479.60" x2="504.90" y2="487.60" stroke="#0a0a0a" stroke-width="1.25"/>
<line x1="569.30" y1="331.70" x2="569.30" y2="323.70" stroke="#0a0a0a" stroke-width="1.25"/>
<line x1="569.30" y1="479.60" x2="569.30" y2="487.60" stroke="#0a0a0a" stroke-width="1.25"/>
<line x1="472.70" y1="331.70" x2="472.70" y2="327.70" stroke="#0a0a0a" stroke-width="1.25"/>
<line x1="472.70" y1="479.60" x2="472.70" y2="483.60" stroke="#0a0a0a" stroke-width="1.25"/>
<line x1="537.10" y1="331.70" x2="537.10" y2="327.70" stroke="#0a0a0a" stroke-width="1.25"/>
<line x1="537.10" y1="479.60" x2="537.10" y2="483.60" stroke="#0a0a0a" stroke-width="1.25"/>
<text transform="translate(504.90,321.00) scale(1,1.0)" x="0" y="0" font-size="14.67" text-anchor="middle" >4.55</text>
<text transform="translate(569.30,321.00) scale(1,1.0)" x="0" y="0" font-size="14.67" text-anchor="middle" >5.00</text>
<text transform="translate(504.90,505.50) scale(1,1.0)" x="0" y="0" font-size="14.67" text-anchor="middle" >2200</text>
<text transform="translate(569.30,505.50) scale(1,1.0)" x="0" y="0" font-size="14.67" text-anchor="middle" >2000</text>
<line x1="469.20" y1="331.70" x2="461.20" y2="331.70" stroke="#0a0a0a" stroke-width="1.25"/>
<line x1="469.20" y1="371.50" x2="461.20" y2="371.50" stroke="#0a0a0a" stroke-width="1.25"/>
<line x1="469.20" y1="411.70" x2="461.20" y2="411.70" stroke="#0a0a0a" stroke-width="1.25"/>
<line x1="469.20" y1="451.70" x2="461.20" y2="451.70" stroke="#0a0a0a" stroke-width="1.25"/>
<line x1="469.20" y1="351.50" x2="465.20" y2="351.50" stroke="#0a0a0a" stroke-width="1.25"/>
<line x1="469.20" y1="391.50" x2="465.20" y2="391.50" stroke="#0a0a0a" stroke-width="1.25"/>
<line x1="469.20" y1="431.70" x2="465.20" y2="431.70" stroke="#0a0a0a" stroke-width="1.25"/>
<line x1="469.20" y1="471.70" x2="465.20" y2="471.70" stroke="#0a0a0a" stroke-width="1.25"/>
<text transform="translate(457.40,335.80) scale(1,1.0)" x="0" y="0" font-size="14.67" text-anchor="end" >0.07</text>
<text transform="translate(457.40,375.60) scale(1,1.0)" x="0" y="0" font-size="14.67" text-anchor="end" >0.06</text>
<text transform="translate(457.40,415.80) scale(1,1.0)" x="0" y="0" font-size="14.67" text-anchor="end" >0.05</text>
<text transform="translate(457.40,455.80) scale(1,1.0)" x="0" y="0" font-size="14.67" text-anchor="end" >0.04</text>
<text transform="translate(528.70,393.30) rotate(-90) scale(1,1.0)" x="0" y="0" font-size="12.8" text-anchor="start"><tspan font-size="12.8">2141 cm</tspan><tspan font-size="8" dy="-4.60">-1</tspan></text>
<text transform="translate(560.60,419.80) rotate(-90) scale(1,1.0)" x="0" y="0" font-size="12.8" text-anchor="start"><tspan font-size="12.8">2041 cm</tspan><tspan font-size="8" dy="-4.60">-1</tspan></text>
<clipPath id="c4"><rect x="633.90" y="331.70" width="115.40" height="148.30"/></clipPath>
<g clip-path="url(#c4)">
<polyline points="634.00,462.93 635.50,462.58 637.00,462.91 638.55,461.79 640.10,460.92 641.60,457.60 643.10,437.90 643.80,415.00 644.50,370.00 645.10,350.00 645.60,348.50 646.20,355.00 646.90,390.00 647.60,415.20 648.40,445.50 649.20,463.60 650.70,467.54 652.20,464.50 653.70,463.74 655.20,468.51 656.70,468.05 658.20,469.43 659.75,471.56 661.30,472.42 662.80,473.62 664.30,474.10 665.80,475.37 667.30,474.33 668.85,476.02 670.40,476.14 671.90,476.37 673.40,475.22 674.90,475.72 676.40,473.84 677.90,477.79 679.50,472.45 681.00,477.06 682.50,476.02 684.00,472.92 685.50,471.79 687.00,469.97 688.55,469.22 690.10,468.27 693.00,466.14 694.55,464.39 696.10,462.52 697.60,461.69 699.10,459.36 700.60,457.90 702.10,454.40 703.65,452.57 705.20,449.15 707.40,452.54 708.60,461.31 709.70,443.38 710.50,454.80 711.20,457.78 712.70,446.34 715.00,444.38 717.30,443.12 719.00,445.56 720.30,447.46 721.50,447.84 723.00,452.35 725.30,456.13 727.60,457.04 729.10,457.45 731.40,461.86 733.60,464.31 735.15,466.44 736.70,466.94 738.20,467.85 739.70,471.03 742.00,473.98 743.50,470.42 745.00,475.40 746.50,468.69 747.30,466.95 748.80,465.33 749.50,464.16" fill="none" stroke="#404040" stroke-width="1.0" stroke-linejoin="round" opacity="1.0"/>
<polyline points="634.00,434.54 636.30,432.94 638.50,435.39 640.80,432.56 642.30,427.30 643.10,409.00 643.80,385.00 644.50,350.00 645.20,341.00 645.80,339.00 646.40,342.00 647.00,360.00 647.60,395.00 648.40,418.20 649.20,428.80 650.70,435.25 652.20,436.16 652.90,435.89 654.50,437.71 656.70,442.19 658.25,442.47 659.80,442.97 661.30,444.51 662.80,443.88 664.30,445.59 665.80,445.80 667.30,445.94 668.80,447.34 670.35,447.36 671.90,446.49 673.40,447.44 674.90,446.71 677.20,444.23 678.70,447.38 680.20,443.84 682.50,448.50 684.80,444.91 687.00,444.62 688.55,444.01 690.10,442.18 693.00,439.13 694.55,438.64 696.10,436.24 698.30,434.63 700.60,431.76 702.90,429.30 705.20,424.25 706.70,423.29 707.90,428.41 708.60,437.97 709.40,416.25 710.20,425.38 710.90,433.57 712.00,419.74 713.50,420.68 715.00,418.21 716.50,414.71 718.50,412.11 719.50,416.01 720.50,416.17 721.50,418.41 723.00,426.20 724.50,428.08 726.10,427.19 727.60,430.25 729.80,431.62 731.40,434.77 733.60,437.63 735.90,441.96 738.20,444.20 739.70,444.04 741.20,447.12 742.70,444.82 744.20,448.34 745.80,446.23 746.50,446.79 747.30,440.60 748.50,438.02 749.50,441.03" fill="none" stroke="#ff3030" stroke-width="1.0" stroke-linejoin="round" opacity="0.82"/>
</g>
<rect x="633.90" y="331.70" width="115.40" height="148.30" fill="none" stroke="#0a0a0a" stroke-width="1.6"/>
<line x1="672.60" y1="331.70" x2="672.60" y2="323.70" stroke="#0a0a0a" stroke-width="1.25"/>
<line x1="672.60" y1="480.00" x2="672.60" y2="488.00" stroke="#0a0a0a" stroke-width="1.25"/>
<line x1="724.30" y1="331.70" x2="724.30" y2="323.70" stroke="#0a0a0a" stroke-width="1.25"/>
<line x1="724.30" y1="480.00" x2="724.30" y2="488.00" stroke="#0a0a0a" stroke-width="1.25"/>
<line x1="646.75" y1="331.70" x2="646.75" y2="327.70" stroke="#0a0a0a" stroke-width="1.25"/>
<line x1="646.75" y1="480.00" x2="646.75" y2="484.00" stroke="#0a0a0a" stroke-width="1.25"/>
<line x1="698.45" y1="331.70" x2="698.45" y2="327.70" stroke="#0a0a0a" stroke-width="1.25"/>
<line x1="698.45" y1="480.00" x2="698.45" y2="484.00" stroke="#0a0a0a" stroke-width="1.25"/>
<text transform="translate(672.60,321.00) scale(1,1.0)" x="0" y="0" font-size="14.67" text-anchor="middle" >8.33</text>
<text transform="translate(724.30,321.00) scale(1,1.0)" x="0" y="0" font-size="14.67" text-anchor="middle" >10.00</text>
<text transform="translate(672.60,506.00) scale(1,1.0)" x="0" y="0" font-size="14.67" text-anchor="middle" >1200</text>
<text transform="translate(724.30,506.00) scale(1,1.0)" x="0" y="0" font-size="14.67" text-anchor="middle" >1000</text>
<line x1="633.90" y1="331.70" x2="625.90" y2="331.70" stroke="#0a0a0a" stroke-width="1.25"/>
<line x1="633.90" y1="390.80" x2="625.90" y2="390.80" stroke="#0a0a0a" stroke-width="1.25"/>
<line x1="633.90" y1="450.70" x2="625.90" y2="450.70" stroke="#0a0a0a" stroke-width="1.25"/>
<line x1="633.90" y1="361.20" x2="629.90" y2="361.20" stroke="#0a0a0a" stroke-width="1.25"/>
<line x1="633.90" y1="420.80" x2="629.90" y2="420.80" stroke="#0a0a0a" stroke-width="1.25"/>
<text transform="translate(624.90,335.80) scale(1,1.0)" x="0" y="0" font-size="14.67" text-anchor="end" >0.06</text>
<text transform="translate(624.90,394.90) scale(1,1.0)" x="0" y="0" font-size="14.67" text-anchor="end" >0.05</text>
<text transform="translate(624.90,454.80) scale(1,1.0)" x="0" y="0" font-size="14.67" text-anchor="end" >0.04</text>
<text transform="translate(668.70,373.20) rotate(-90) scale(1,1.0)" x="0" y="0" font-size="12.9" text-anchor="start"><tspan font-size="12.9">CH</tspan><tspan font-size="8" dy="3.40" letter-spacing="0.2">4</tspan><tspan font-size="12.9" dy="-3.40"> </tspan><tspan font-size="13.2" font-family="'Liberation Serif', serif" letter-spacing="0.2">ν</tspan><tspan font-size="8.6" dy="3.40" font-family="'Liberation Serif', serif" letter-spacing="0.2">4</tspan></text>
<line x1="649.10" y1="341.40" x2="658.50" y2="345.60" stroke="#333" stroke-width="0.9"/>
<text transform="translate(671.00,429.30) rotate(-90) scale(1,1.0)" x="0" y="0" font-size="12.9" text-anchor="start"><tspan font-size="12.9">CO</tspan><tspan font-size="8" dy="3.40" letter-spacing="0.2">2</tspan><tspan font-size="12.9" dy="-3.40"> </tspan><tspan font-size="13.2" font-family="'Liberation Serif', serif" letter-spacing="0.2">ν</tspan><tspan font-size="8.6" dy="3.40" font-family="'Liberation Serif', serif" letter-spacing="0.2">1</tspan></text>
<line x1="660.60" y1="427.30" x2="653.00" y2="432.30" stroke="#333" stroke-width="0.9"/>
<text transform="translate(721.20,397.60) rotate(-90) scale(1,1.0)" x="0" y="0" font-size="12.8" text-anchor="start"><tspan font-size="12.8">1022 cm</tspan><tspan font-size="8" dy="-4.60">-1</tspan></text>
<line x1="718.20" y1="400.90" x2="718.20" y2="409.20" stroke="#333" stroke-width="0.9"/>
<text x="342.7" y="11.8" font-size="15" text-anchor="start">Wavelength (<tspan font-family="'Liberation Serif', serif" font-size="15.5" dx="0.5">μ</tspan><tspan dx="0.6">m)</tspan></text>
<text x="359.6" y="523.7" font-size="15" text-anchor="start">Wavenumber (cm<tspan font-size="10" dy="-4.8" dx="0.5">−1</tspan><tspan dy="4.8">)</tspan></text>
<text transform="translate(14.8,277.3) rotate(-90)" x="0" y="0" font-size="18" text-anchor="middle">Absorbance (offset)</text>
</svg>
</body></html>
